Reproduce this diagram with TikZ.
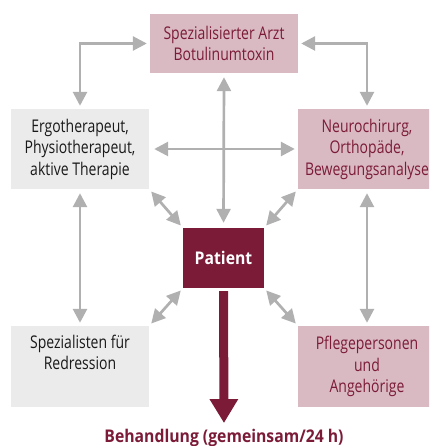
\documentclass[tikz,border=0pt]{standalone}
\usepackage{fontspec}
\setmainfont{Open Sans}[FakeStretch=0.8, BoldFeatures={FakeStretch=0.9}]
\usetikzlibrary{arrows.meta,positioning}
\definecolor{weinrot}{HTML}{7B1B37}
\definecolor{rosa}{HTML}{D9B9C2}
\definecolor{hellgrau}{HTML}{EBEBEB}
\definecolor{pfeilgrau}{HTML}{B0B0B0}

\begin{document}
\begin{tikzpicture}[x=1pt, y=-1pt, >={Triangle[length=14pt,width=14pt]},
    box/.style={rectangle, minimum width=138pt, minimum height=80pt, inner sep=0pt, align=center, font=\fontsize{17.5}{21.5}\selectfont},
    rosabox/.style={box, fill=rosa, text=weinrot},
    graubox/.style={box, fill=hellgrau, text=black!90},
    verbindung/.style={draw=pfeilgrau, line width=2.7pt, <->, shorten <=3pt, shorten >=3pt}]
        \clip (0,0) rectangle (429,446);

        % Boxes
        \node[rosabox, minimum width=148pt, minimum height=59pt] (arzt) at (224,43.5) {Spezialisierter Arzt\\Botulinumtoxin};
        \node[graubox] (ergo) at (80,149) {Ergotherapeut,\\Physiotherapeut,\\aktive Therapie};
        \node[rosabox] (neuro) at (367,149) {Neurochirurg,\\Orthopäde,\\Bewegungsanalyse};
        \node[graubox, minimum height=81pt] (redress) at (80,366.5) {Spezialisten für\\Redression\\\strut};
        \node[rosabox, minimum height=81pt] (pflege) at (367,366.5) {Pflegepersonen\\und\\Angehörige};

        % Patient
        \node[rectangle, fill=weinrot, text=white, minimum width=81pt, minimum height=60pt, inner sep=0pt, font=\fontsize{17.5}{21}\selectfont\bfseries] (patient) at (223.5,258) {Patient};
        \node[text=weinrot, inner sep=0pt, font=\fontsize{17.5}{21}\selectfont\bfseries] (behandlung) at (224,438) {Behandlung (gemeinsam/24 h)};

        % Connections
        \draw[verbindung] (ergo.north) |- (arzt.west);
        \draw[verbindung] (neuro.north) |- (arzt.east);
        \draw[verbindung, shorten <=4pt, shorten >=5pt] (arzt.south) -- (patient.north);
        \draw[verbindung, shorten <=5pt] (ergo.east) -- (neuro.west);
        \draw[verbindung, shorten <=4pt] (ergo.south) -- (redress.north);
        \draw[verbindung, shorten <=4pt] (neuro.south) -- (pflege.north);
        \draw[verbindung] (ergo.south east) -- (patient.north west);
        \draw[verbindung] (neuro.south west) -- (patient.north east);
        \draw[verbindung] (patient.south west) -- (redress.north east);
        \draw[verbindung] (patient.south east) -- (pflege.north west);

        % Treatment arrow
        \draw[weinrot, line width=9pt, -{Triangle[length=24pt,width=27pt]}, shorten <=3pt, shorten >=6pt] (patient.south) -- (behandlung.north);
    \end{tikzpicture}
\end{document}
